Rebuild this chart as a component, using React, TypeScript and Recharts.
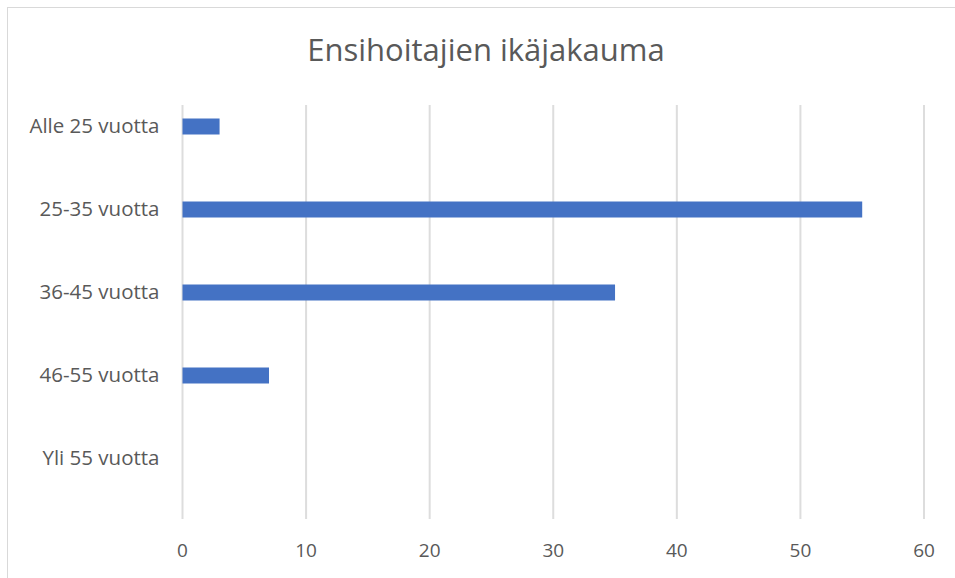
import { BarChart, Bar, XAxis, YAxis, CartesianGrid } from 'recharts'

const categories = ['Alle 25 vuotta', '25-35 vuotta', '36-45 vuotta', '46-55 vuotta', 'Yli 55 vuotta']
const counts = [3, 55, 35, 7, 0]
const xTicks = [0, 10, 20, 30, 40, 50, 60]

const data = categories.map((name, i) => ({ name, value: counts[i] }))

const font = '"Open Sans", sans-serif'

export default function App() {
  return (
    <div style={{ position: 'absolute', left: 0, top: 0, width: 955, height: 578, overflow: 'hidden', background: '#fff', fontFamily: font }}>
      <div
        style={{
          position: 'absolute',
          left: 7,
          top: 7,
          width: 1000,
          height: 700,
          border: '1px solid #d9d9d9',
        }}
      />
      <div
        style={{
          position: 'absolute',
          left: 186,
          width: 600,
          top: 27,
          textAlign: 'center',
          fontSize: 31,
          color: '#595959',
          lineHeight: '44px',
        }}
      >
        Ensihoitajien ikäjakauma
      </div>
      <BarChart
        width={955}
        height={578}
        data={data}
        layout="vertical"
        margin={{ top: 105, right: 31, left: 0, bottom: 19 }}
        style={{ position: 'absolute', left: 0, top: 0 }}
      >
        <CartesianGrid horizontal={false} stroke="#dddddd" strokeWidth={2} />
        <XAxis
          type="number"
          domain={[0, 60]}
          ticks={xTicks}
          axisLine={false}
          tickLine={false}
          tickSize={0}
          tickMargin={25}
          height={40}
          tick={{ fill: '#595959', fontSize: 19, fontFamily: font }}
        />
        <YAxis
          type="category"
          dataKey="name"
          width={182.5}
          axisLine={false}
          tickLine={false}
          tickSize={0}
          tickMargin={23}
          padding={{ top: -20.5, bottom: 19.5 }}
          tick={{ fill: '#595959', fontSize: 20.5, fontFamily: font }}
        />
        <Bar dataKey="value" fill="#4472c4" barSize={16} isAnimationActive={false} />
      </BarChart>
    </div>
  )
}
